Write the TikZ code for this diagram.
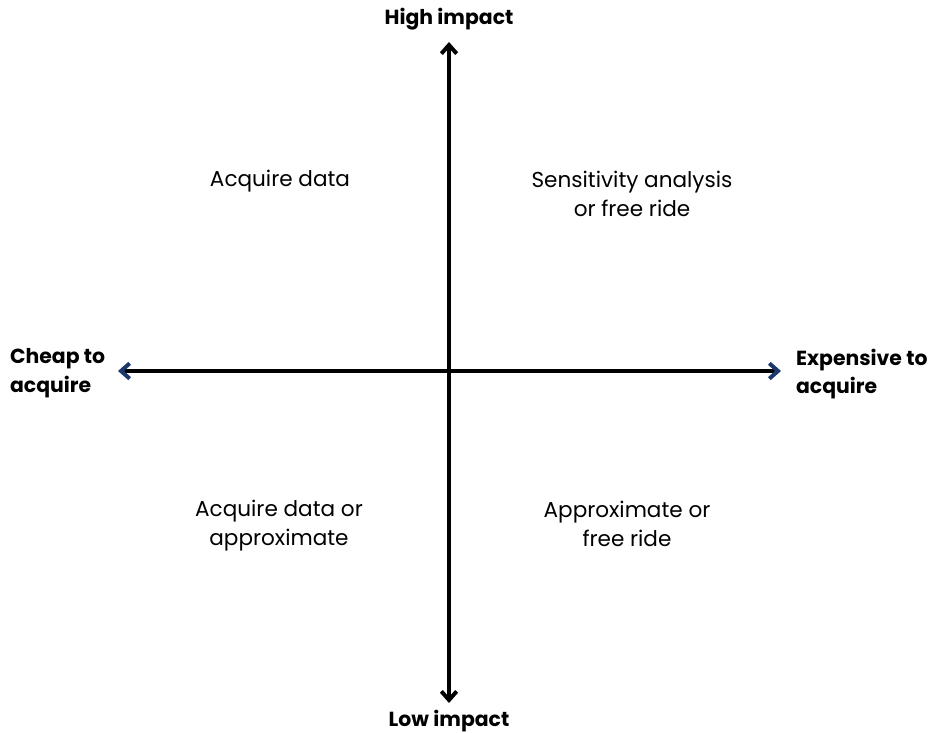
\documentclass[tikz,border=0pt]{standalone}
\usepackage{fontspec}
\setmainfont{Poppins}
\usetikzlibrary{arrows.meta}
\definecolor{navy}{HTML}{1B3A6B}

\begin{document}
\begin{tikzpicture}[
            x = 0.3mm, y = -0.3mm, % pixel grid
            axis/.style = {line width=1.2mm},
            vtip/.style = {-{Straight Barb[length=2.6mm,width=4.6mm,line width=1.2mm]}},
            htip/.style = {-{Straight Barb[length=2.6mm,width=4.6mm,line width=1.2mm,color=navy]}},
            lbl/.style = {font=\fontsize{17.4}{24.6}\selectfont\bfseries, align=left},
            txt/.style = {font=\fontsize{18.4}{24.6}\selectfont, align=center}
        ]
\useasboundingbox (0,0) rectangle (933,733);
\coordinate (O) at (449,371);
\coordinate (T) at (449,42);
\coordinate (B) at (449,703);
\coordinate (L) at (118,371);
\coordinate (R) at (781,371);

\node[lbl] (HI) at (449,19) {High impact};
\node[lbl] (LO) at (449,721) {Low impact};
\node[lbl, anchor=west] (CH) at (6,373) {Cheap to\\acquire};
\node[lbl, anchor=west] (EX) at (792,374) {Expensive to\\acquire};

\node[txt] (Q1) at (280,181) {Acquire data};
\node[txt] (Q2) at (632,194) {Sensitivity analysis\\or free ride};
\node[txt] (Q3) at (279,526) {Acquire data or\\approximate};
\node[txt] (Q4) at (627,524) {Approximate or\\free ride};

 \draw [axis, vtip] (O) -- (T);
 \draw [axis, vtip] (O) -- (B);
 \draw [axis, htip] (O) -- (L);
 \draw [axis, htip] (O) -- (R);
\end{tikzpicture}
\end{document}
